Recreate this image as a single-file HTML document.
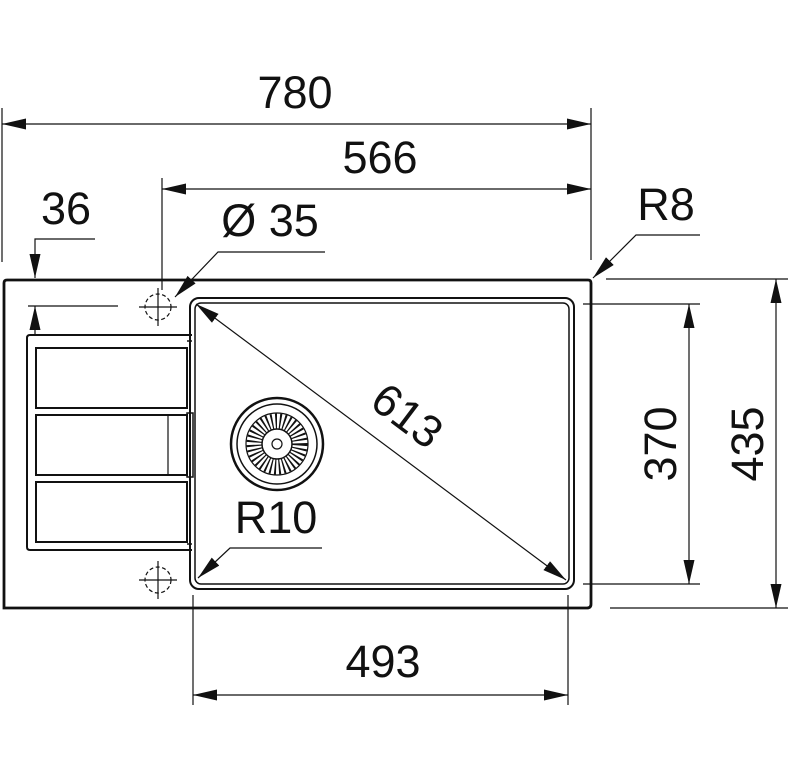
<!DOCTYPE html>
<html><head><style>body{margin:0;background:#fff}svg{display:block}</style></head><body>
<svg width="788" height="762" viewBox="0 0 788 762" xmlns="http://www.w3.org/2000/svg" font-family="Liberation Sans, sans-serif" fill="none" stroke="#111">
<defs>
<marker id="a" markerWidth="24" markerHeight="11" refX="24" refY="5.5" orient="auto-start-reverse" markerUnits="userSpaceOnUse"><path d="M0,0 L24,5.5 L0,11 Z" fill="#111" stroke="none"/></marker>
</defs>
<g stroke-width="1.2">
<line x1="2" y1="108" x2="2" y2="262"/>
<line x1="591" y1="108" x2="591" y2="260"/>
<line x1="2" y1="124" x2="591" y2="124" marker-start="url(#a)" marker-end="url(#a)"/>
<line x1="162" y1="178" x2="162" y2="290"/>
<line x1="162" y1="189" x2="591" y2="189" marker-start="url(#a)" marker-end="url(#a)"/>
<polyline points="95,239 35,239 35,278" marker-end="url(#a)"/>
<line x1="35" y1="306" x2="35" y2="336" marker-start="url(#a)"/>
<line x1="28" y1="306" x2="118" y2="306"/>
<polyline points="325,252 218,252 175,297" marker-end="url(#a)"/>
<polyline points="700,235 636,235 593,278" marker-end="url(#a)"/>
<line x1="606" y1="279" x2="788" y2="279"/>
<line x1="583" y1="304" x2="700" y2="304"/>
<line x1="583" y1="584" x2="700" y2="584"/>
<line x1="610" y1="608" x2="788" y2="608"/>
<line x1="689" y1="304" x2="689" y2="584" marker-start="url(#a)" marker-end="url(#a)"/>
<line x1="776" y1="279" x2="776" y2="608" marker-start="url(#a)" marker-end="url(#a)"/>
<line x1="196" y1="304" x2="566" y2="580" marker-start="url(#a)" marker-end="url(#a)"/>
<polyline points="322,548 230,548 198,578" marker-end="url(#a)"/>
<line x1="193" y1="595" x2="193" y2="705"/>
<line x1="568" y1="595" x2="568" y2="705"/>
<line x1="193" y1="695" x2="568" y2="695" marker-start="url(#a)" marker-end="url(#a)"/>
</g>
<path d="M4,608 L4,283 Q4,280 7,280 L588,280 Q591,280 591,283 L591,604 Q591,608 587,608 Z" stroke-width="2.8"/>
<rect x="190" y="298" width="384" height="291" rx="9" stroke-width="2"/>
<rect x="195" y="303" width="374" height="281" rx="6" stroke-width="1.5"/>
<path d="M192,335 L30,335 Q27,335 27,338 L27,547 Q27,550 30,550 L192,550" stroke-width="2"/>
<rect x="36" y="348" width="151" height="60" stroke-width="2"/>
<rect x="36" y="415" width="151" height="60" stroke-width="2"/>
<line x1="168" y1="415" x2="168" y2="475" stroke-width="1.2"/>
<rect x="187" y="413" width="6" height="64" stroke-width="1.5"/>
<rect x="36" y="482" width="151" height="60" stroke-width="2"/>
<line x1="187" y1="341" x2="192" y2="341" stroke-width="1.5"/>
<line x1="187" y1="544" x2="192" y2="544" stroke-width="1.5"/>
<g stroke-width="1.2">
<circle cx="158" cy="307" r="13" stroke-dasharray="4 2.5"/>
<line x1="139" y1="307" x2="177" y2="307"/><line x1="158" y1="288" x2="158" y2="326"/>
<circle cx="158" cy="580" r="13" stroke-dasharray="4 2.5"/>
<line x1="139" y1="580" x2="177" y2="580"/><line x1="158" y1="561" x2="158" y2="599"/>
</g>
<circle cx="277" cy="444" r="46" stroke-width="2.5"/>
<circle cx="277" cy="444" r="40" stroke-width="1.5"/>
<circle cx="277" cy="444" r="31" stroke-width="1.2"/>
<g stroke-width="1.5" stroke-dasharray="1.6 2.5"><circle cx="277" cy="444" r="23" stroke-width="15"/></g>
<circle cx="277" cy="444" r="15" fill="#fff" stroke-width="1.5"/>
<circle cx="277" cy="444" r="5" stroke-width="1.2"/>
<g fill="#111" stroke="none" font-size="45">
<text x="295" y="108" text-anchor="middle">780</text>
<text x="380" y="173" text-anchor="middle">566</text>
<text x="66" y="224" text-anchor="middle">36</text>
<text x="270" y="236" text-anchor="middle">Ø 35</text>
<text x="666" y="220" text-anchor="middle">R8</text>
<text x="276" y="533" text-anchor="middle">R10</text>
<text x="383" y="677" text-anchor="middle">493</text>
<text transform="translate(676,444) rotate(-90)" text-anchor="middle">370</text>
<text transform="translate(763,444) rotate(-90)" text-anchor="middle">435</text>
<text transform="translate(398,428) rotate(37)" text-anchor="middle">613</text>
</g>
</svg>
</body></html>
